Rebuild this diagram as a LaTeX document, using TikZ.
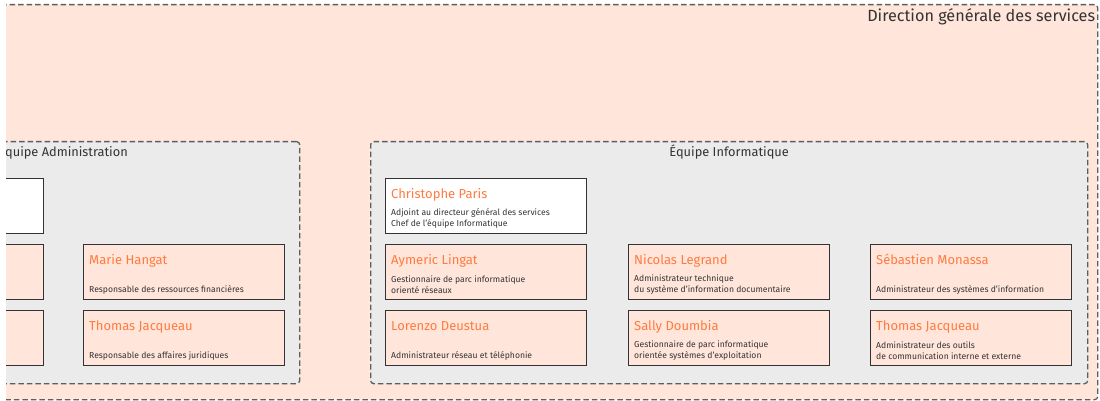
\documentclass[tikz,border=0pt]{standalone}
\usepackage{fontspec}
\setmainfont{Fira Sans}
\definecolor{peche}{HTML}{FFE5DA}
\definecolor{fondgris}{HTML}{EBEBEB}
\definecolor{orangenom}{HTML}{FF7B3F}
\definecolor{trait}{HTML}{5E5E5E}
\definecolor{bordure}{HTML}{333333}
\definecolor{texte}{HTML}{333333}

% une fiche : cadre, nom en haut, role en bas
\newcommand{\fiche}[5][fiche]{%
  \node[#1] (#2) at (#3) {};
  \node[nom] (#2-nom) at ([xshift=6pt, yshift=-20pt]#2.north west) {#4};
  \node[role] (#2-role) at ([xshift=6pt, yshift=6pt]#2.south west) {#5};
}

\begin{document}
\begin{tikzpicture}[x=1pt, y=-1pt,
  zone/.style={draw=trait, line width=1.3pt, dash pattern=on 5.5pt off 3pt,
               rounded corners=3pt, inner sep=0pt, anchor=north west},
  dgs/.style={zone, fill=peche},
  equipe/.style={zone, fill=fondgris},
  fiche/.style={draw=bordure, line width=1.3pt, fill=peche, minimum width=201pt,
                minimum height=55pt, inner sep=0pt, anchor=north west},
  blanche/.style={fiche, fill=white},
  nom/.style={text=orangenom, font=\fontsize{13}{15}\selectfont, inner sep=0pt, anchor=base west},
  role/.style={text=texte, font=\fontsize{8.6}{11}\selectfont, align=left, inner sep=0pt, anchor=south west},
  titre/.style={text=texte, inner sep=0pt}
]
\useasboundingbox (0,0) rectangle (1100,401);
\clip (6,0) rectangle (1100,401);

% direction generale
\node[dgs, minimum width=1397pt, minimum height=395pt] (dgs) at (-300,4) {};
\node[titre, anchor=base east, font=\fontsize{16.2}{19}\selectfont] (dgs-titre)
  at ([xshift=-3pt, yshift=-18pt]dgs.north east) {Direction générale des services};

% equipe administration
\node[equipe, minimum width=473pt, minimum height=242pt] (admin) at (-174,141) {};
\node[titre, anchor=base, font=\fontsize{12.8}{15}\selectfont] (admin-titre)
  at ([yshift=-16pt]admin.north) {Équipe Administration};
\node[blanche] (adm1) at (-158,178) {};
\node[fiche] (adm2) at (-158,244) {};
\node[fiche] (adm3) at (-158,310) {};
\fiche{mh}{83,244}{Marie Hangat}{Responsable des ressources financières}
\fiche{tja}{83,310}{Thomas Jacqueau}{Responsable des affaires juridiques}

% equipe informatique
\node[equipe, minimum width=717pt, minimum height=242pt] (info) at (370,141) {};
\node[titre, anchor=base, font=\fontsize{12.8}{15}\selectfont] (info-titre)
  at ([yshift=-16pt]info.north) {Équipe Informatique};
\fiche[blanche]{cp}{385,178}{Christophe Paris}{Adjoint au directeur général des services\\Chef de l'équipe Informatique}
\fiche{al}{385,244}{Aymeric Lingat}{Gestionnaire de parc informatique\\orienté réseaux}
\fiche{nl}{628,244}{Nicolas Legrand}{Administrateur technique\\du système d'information documentaire}
\fiche{sm}{870,244}{Sébastien Monassa}{Administrateur des systèmes d'information}
\fiche{ld}{385,310}{Lorenzo Deustua}{Administrateur réseau et téléphonie}
\fiche{sd}{628,310}{Sally Doumbia}{Gestionnaire de parc informatique\\orientée systèmes d'exploitation}
\fiche{tji}{870,310}{Thomas Jacqueau}{Administrateur des outils\\de communication interne et externe}
\end{tikzpicture}
\end{document}
